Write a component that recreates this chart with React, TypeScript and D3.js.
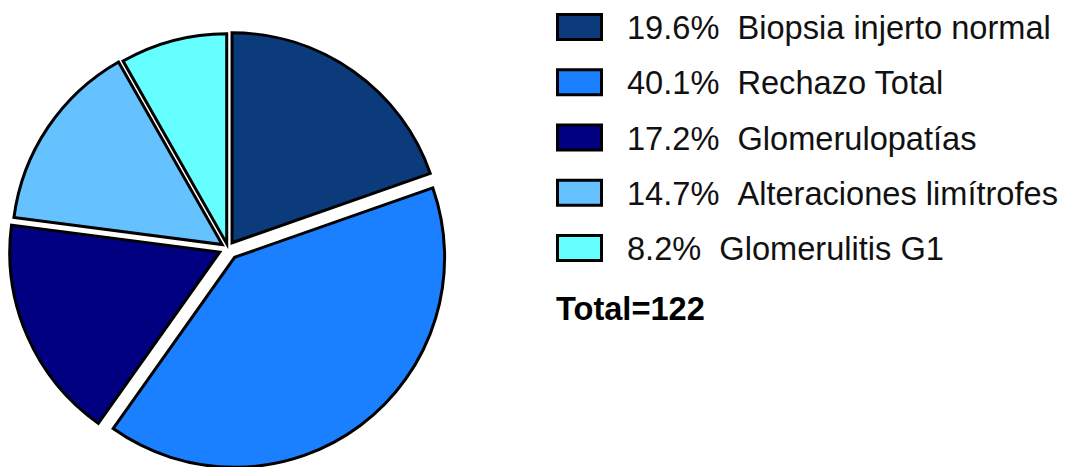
import React from "react";
import * as d3 from "d3";

const categories = [
  "Biopsia injerto normal",
  "Rechazo Total",
  "Glomerulopatías",
  "Alteraciones limítrofes",
  "Glomerulitis G1",
];
const percents = [19.6, 40.1, 17.2, 14.7, 8.2];
const percentLabels = ["19.6%", "40.1%", "17.2%", "14.7%", "8.2%"];
const totalLabel = "Total=122";

const colors = ["#0c3b7c", "#1a80ff", "#010080", "#66c2ff", "#66ffff"];
const explode = [7, 11, 9, 7, 5];

const W = 1078;
const H = 467;
const cx = 228;
const cy = 248.5;
const R = 210;

export default function App() {
  const pie = d3
    .pie<number>()
    .sort(null)
    .value((d) => d)
    .startAngle(0)
    .endAngle(2 * Math.PI);
  const arcs = pie(percents);
  const arc = d3.arc<d3.PieArcDatum<number>>().innerRadius(0).outerRadius(R);

  const rowY = d3
    .scalePoint<number>()
    .domain(d3.range(categories.length))
    .range([27, 248]);

  const fontFamily = "'Liberation Sans', Arial, Helvetica, sans-serif";

  return (
    <svg
      width={W}
      height={H}
      style={{ position: "absolute", left: 0, top: 0, background: "#fff" }}
    >
      <g transform={`translate(${cx},${cy})`}>
        {arcs.map((a, i) => {
          const mid = (a.startAngle + a.endAngle) / 2;
          const dx = Math.sin(mid) * explode[i];
          const dy = -Math.cos(mid) * explode[i];
          return (
            <path
              key={i}
              d={arc(a) || ""}
              transform={`translate(${dx},${dy})`}
              fill={colors[i]}
              stroke="#000"
              strokeWidth={3}
              strokeLinejoin="miter"
            />
          );
        })}
      </g>
      <g>
        {categories.map((c, i) => {
          const y = rowY(i) as number;
          return (
            <g key={c}>
              <rect
                x={557.5}
                y={y - 12.5}
                width={44}
                height={25}
                fill={colors[i]}
                stroke="#000"
                strokeWidth={3}
              />
              <text
                x={627}
                y={y + 12}
                fontFamily={fontFamily}
                fontSize={32.6}
                fill="#111"
                style={{ whiteSpace: "pre" }}
              >
                {`${percentLabels[i]}\u00a0\u00a0${c}`}
              </text>
            </g>
          );
        })}
        <text
          x={556}
          y={320}
          fontFamily={fontFamily}
          fontSize={32.6}
          fontWeight="bold"
          fill="#000"
        >
          {totalLabel}
        </text>
      </g>
    </svg>
  );
}
